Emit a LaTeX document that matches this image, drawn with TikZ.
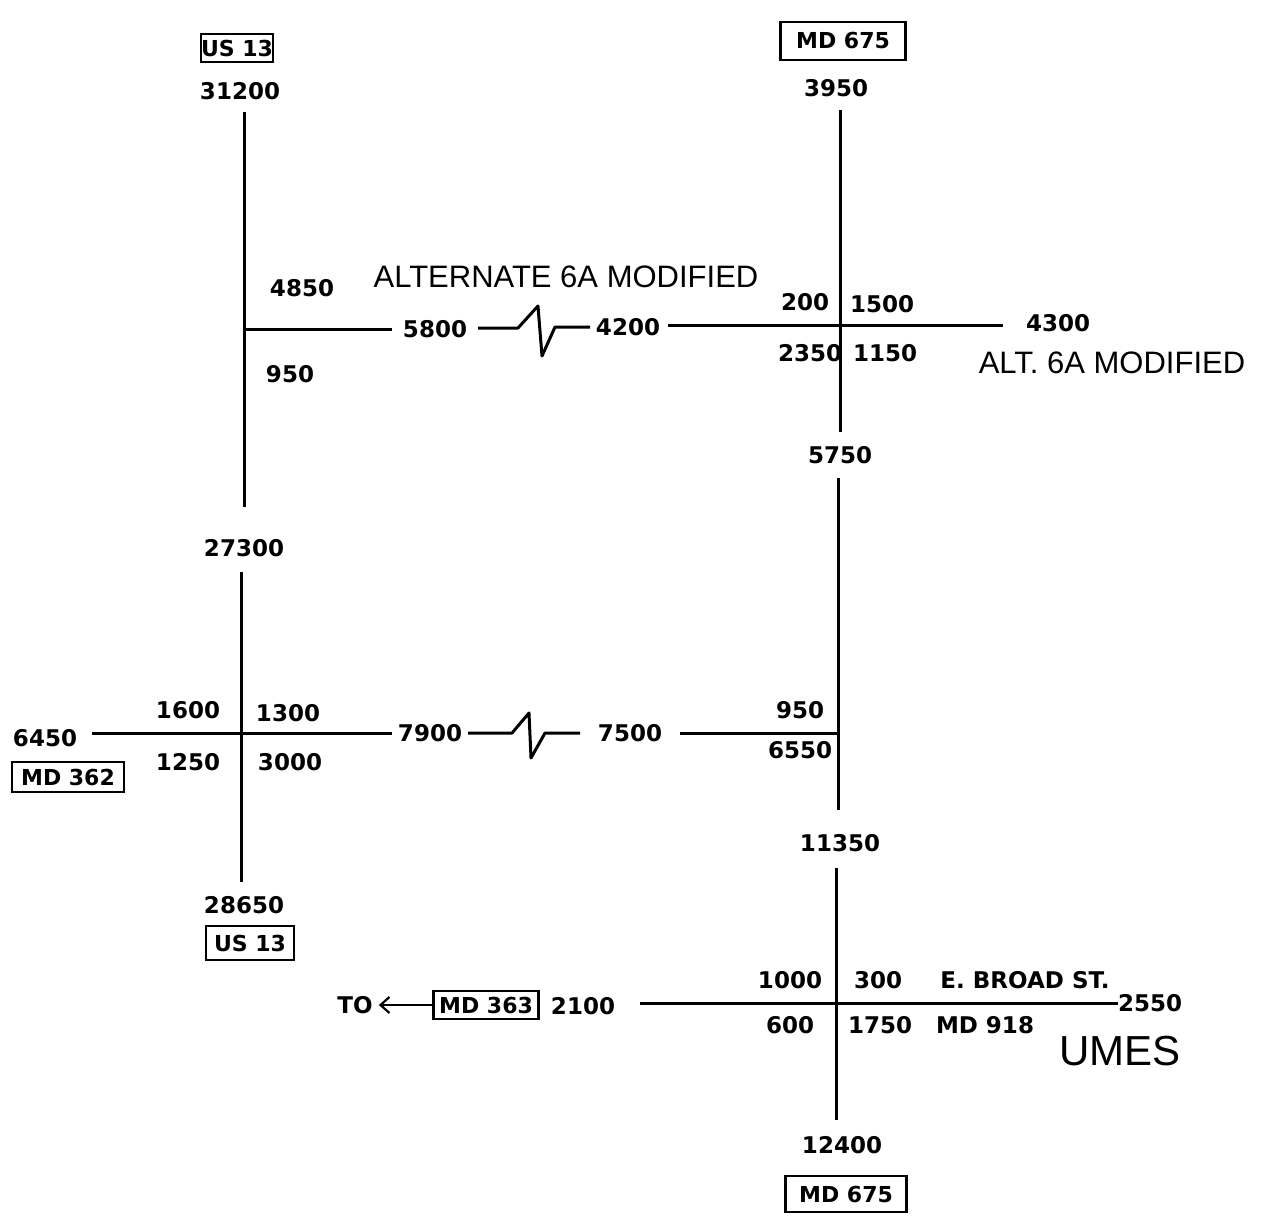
\documentclass[tikz,border=0pt]{standalone}
\usepackage{fontspec}
\usetikzlibrary{arrows.meta}
\setmainfont{DejaVu Sans}
\newfontfamily\lblfont{Liberation Sans}
\begin{document}
\begin{tikzpicture}[x=1pt,y=-1pt,
  num/.style={font=\fontsize{23}{23}\selectfont\bfseries, inner sep=0pt},
  lbl/.style={font=\lblfont\fontsize{31}{31}\selectfont, inner sep=0pt},
  shield/.style={draw, line width=2.8pt, font=\fontsize{22}{22}\selectfont\bfseries, inner sep=0pt},
  road/.style={line width=3pt}]
\useasboundingbox (0,0) rectangle (1262,1218);
% ---------- left road US 13 ----------
\node[shield, minimum width=68pt, minimum height=28pt] (us13t) at (237,48) {US 13};
\node[num] (n31200) at (240,91) {31200};
\coordinate (L1) at (244,112);
\coordinate (L2) at (244,507);
\node[num] (n27300) at (244,548) {27300};
\coordinate (L3) at (241,572);
\coordinate (L4) at (241,882);
\node[num] (n28650) at (244,905) {28650};
\node[shield, minimum width=88pt, minimum height=34pt] (us13b) at (250,943) {US 13};
\draw[road] (L1) -- (L2);
\draw[road] (L3) -- (L4);
% ---------- right road MD 675 ----------
\node[shield, minimum width=125pt, minimum height=38pt] (md675t) at (843,41) {MD 675};
\node[num] (n3950) at (836,88) {3950};
\coordinate (R1) at (840,110);
\coordinate (R2) at (840,432);
\node[num] (n5750) at (840,455) {5750};
\coordinate (R3) at (838,478);
\coordinate (R4) at (838,810);
\node[num] (n11350) at (840,843) {11350};
\coordinate (R5) at (836,868);
\coordinate (R6) at (836,1120);
\node[num] (n12400) at (842,1145) {12400};
\node[shield, minimum width=121pt, minimum height=36pt] (md675b) at (846,1194) {MD 675};
\draw[road] (R1) -- (R2);
\draw[road] (R3) -- (R4);
\draw[road] (R5) -- (R6);
% ---------- upper road: Alternate 6A modified ----------
\node[lbl] (alt6a) at (566,277) {ALTERNATE 6A MODIFIED};
\node[num] (n4850) at (302,288) {4850};
\node[num] (n950a) at (290,374) {950};
\node[num] (n5800) at (435,329) {5800};
\node[num] (n4200) at (628,327) {4200};
\node[num] (n200) at (805,302) {200};
\node[num] (n1500) at (882,304) {1500};
\node[num] (n2350) at (810,353) {2350};
\node[num] (n1150) at (885,353) {1150};
\node[num] (n4300) at (1058,323) {4300};
\node[lbl] (alt6b) at (1112,363) {ALT. 6A MODIFIED};
\coordinate (U1) at (244,329);
\coordinate (U2) at (392,329);
\coordinate (U3) at (478,328);
\coordinate (Z1) at (518,328);
\coordinate (Z2) at (538,306);
\coordinate (Z3) at (542,356);
\coordinate (Z4) at (555,327);
\coordinate (U4) at (590,327);
\coordinate (U5) at (668,325);
\coordinate (U6) at (1003,325);
\draw[road] (U1) -- (U2);
\draw[road, line join=round] (U3) -- (Z1) -- (Z2) -- (Z3) -- (Z4) -- (U4);
\draw[road] (U5) -- (U6);
% ---------- middle road: MD 362 ----------
\node[num] (n6450) at (45,738) {6450};
\node[shield, minimum width=112pt, minimum height=30pt] (md362) at (68,777) {MD 362};
\node[num] (n1600) at (188,710) {1600};
\node[num] (n1300) at (288,713) {1300};
\node[num] (n1250) at (188,762) {1250};
\node[num] (n3000) at (290,762) {3000};
\node[num] (n7900) at (430,733) {7900};
\node[num] (n7500) at (630,733) {7500};
\node[num] (n950b) at (800,710) {950};
\node[num] (n6550) at (800,750) {6550};
\coordinate (M1) at (92,733);
\coordinate (M2) at (392,733);
\coordinate (M3) at (468,733);
\coordinate (Y1) at (512,733);
\coordinate (Y2) at (529,713);
\coordinate (Y3) at (531,758);
\coordinate (Y4) at (545,733);
\coordinate (M4) at (580,733);
\coordinate (M5) at (680,733);
\coordinate (M6) at (840,733);
\draw[road] (M1) -- (M2);
\draw[road, line join=round] (M3) -- (Y1) -- (Y2) -- (Y3) -- (Y4) -- (M4);
\draw[road] (M5) -- (M6);
% ---------- bottom road: E. Broad St. / MD 918 ----------
\node[num] (to) at (355,1005) {TO};
\node[shield, minimum width=105pt, minimum height=28pt] (md363) at (486,1005) {MD 363};
\node[num] (n2100) at (583,1006) {2100};
\coordinate (arrend) at ([xshift=6pt]to.east);
\draw[line width=2.2pt, -{Straight Barb[length=9pt,width=16pt]}] (md363.west) -- (arrend);
\node[num] (n1000) at (790,980) {1000};
\node[num] (n300) at (878,980) {300};
\node[num] (ebroad) at (1025,980) {E. BROAD ST.};
\node[num] (n600) at (790,1025) {600};
\node[num] (n1750) at (880,1025) {1750};
\node[num] (md918) at (985,1025) {MD 918};
\node[num] (n2550) at (1150,1003) {2550};
\node[font=\lblfont\fontsize{42}{42}\selectfont, inner sep=0pt] (umes) at (1120,1051) {UMES};
\coordinate (B1) at (640,1003);
\coordinate (B2) at (1118,1003);
\draw[road] (B1) -- (B2);
\end{tikzpicture}
\end{document}
